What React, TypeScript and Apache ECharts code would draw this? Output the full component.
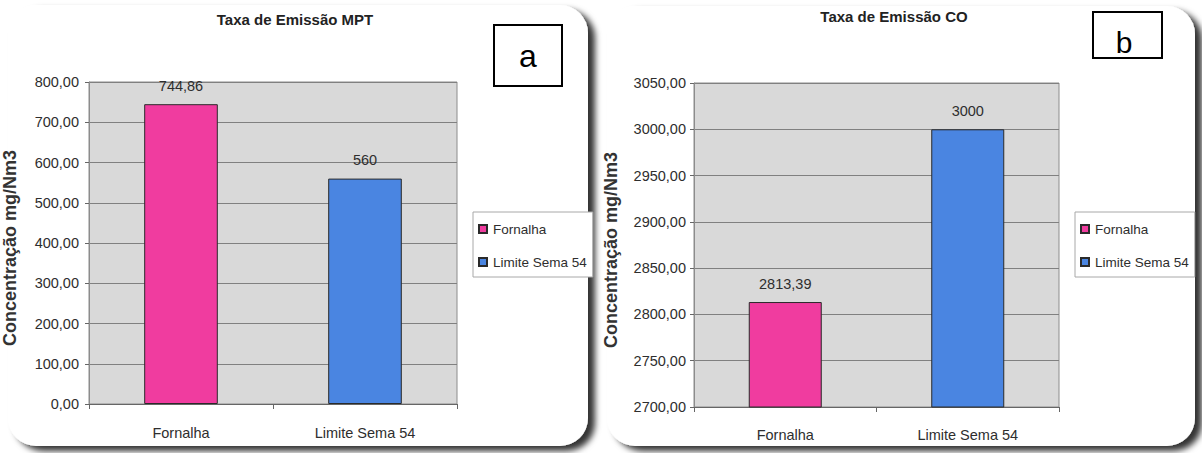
import React, { useEffect, useRef } from "react";
import * as echarts from "echarts";

const categories = ["Fornalha", "Limite Sema 54"];
const seriesNames = ["Fornalha", "Limite Sema 54"];
const mptValues = [744.86, 560];
const coValues = [2813.39, 3000];
const titles = ["Taxa de Emissão MPT", "Taxa de Emissão CO"];
const panelTags = ["a", "b"];
const yAxisName = "Concentração mg/Nm3";
const mptAxis = { min: 0, max: 800, interval: 100 };
const coAxis = { min: 2700, max: 3050, interval: 50 };

const PINK = "#f03c9f";
const BLUE = "#4a85e1";
const NARROW = "'Liberation Sans Narrow', 'Arial Narrow', 'Liberation Sans', Arial, sans-serif";
const SANS = "'Liberation Sans', Arial, sans-serif";

const fmtAxis = (v: number) => v.toFixed(2).replace(".", ",");
const fmtVal = (v: number) => String(v).replace(".", ",");

export default function App() {
  const ref = useRef<HTMLDivElement>(null);
  useEffect(() => {
    if (!ref.current) return;
    const chart = echarts.init(ref.current, undefined, { renderer: "svg" });

    const grids = [
      { left: 89, top: 82, width: 368, height: 322 },
      { left: 694, top: 83, width: 365, height: 324 },
    ];
    const axes = [mptAxis, coAxis];
    const values = [mptValues, coValues];

    const xAxis = grids.map((_, i) => ({
      type: "category",
      gridIndex: i,
      data: categories,
      axisLine: { lineStyle: { color: "#666", width: 1 } },
      axisTick: { show: true, length: 5, lineStyle: { color: "#666" } },
      axisLabel: { fontFamily: NARROW, fontSize: 14.5, color: "#2e2e2e", margin: i === 0 ? 21 : 20 },
    }));

    const yAxis = grids.map((_, i) => ({
      type: "value",
      gridIndex: i,
      min: axes[i].min,
      max: axes[i].max,
      interval: axes[i].interval,
      name: yAxisName,
      nameLocation: "middle",
      nameGap: i === 0 ? 70 : 74,
      nameTextStyle: { fontFamily: SANS, fontWeight: "bold", fontSize: 18, color: "#333", padding: [0, 0, 0, -10] },
      axisLine: { show: true, lineStyle: { color: "#8c8c8c" } },
      axisTick: { show: true, length: 4, lineStyle: { color: "#666" } },
      axisLabel: { fontFamily: NARROW, fontSize: 14.5, color: "#2e2e2e", margin: i === 0 ? 10 : 8, formatter: fmtAxis },
      splitLine: { show: true, lineStyle: { color: "#808080", width: 1 } },
    }));

    const colors = [PINK, BLUE];
    const series: any[] = [];
    grids.forEach((_, g) => {
      seriesNames.forEach((name, s) => {
        series.push({
          type: "bar",
          name,
          xAxisIndex: g,
          yAxisIndex: g,
          stack: "g" + g,
          barWidth: "40%",
          data: categories.map((_, c) => (c === s ? values[g][c] : "-")),
          itemStyle: { color: colors[s], borderColor: "#2a2a2a", borderWidth: 1 },
          label: {
            show: true,
            position: "top",
            distance: 11,
            fontFamily: NARROW,
            fontSize: 14.5,
            color: "#2e2e2e",
            formatter: (p: any) => fmtVal(p.value),
          },
        });
      });
    });

    const legendBase = {
      data: seriesNames,
      orient: "vertical",
      itemWidth: 8,
      itemHeight: 8,
      itemGap: 19,
      icon: "rect",
      backgroundColor: "#ffffff",
      borderColor: "#a8a8a8",
      borderWidth: 1,
      borderRadius: 0,
      padding: [10, 6, 8, 5],
      selectedMode: false,
      textStyle: { fontFamily: NARROW, fontSize: 13.5, color: "#2e2e2e", padding: [0, 0, 0, 1] },
    };

    const cardStyle = {
      fill: "#ffffff",
      shadowBlur: 6,
      shadowColor: "rgba(0,0,0,0.8)",
      shadowOffsetX: 7,
      shadowOffsetY: 5,
    };

    const option: any = {
      animation: false,
      backgroundColor: "#ffffff",
      title: [
        {
          text: titles[0],
          left: 295,
          top: 12,
          textAlign: "center",
          padding: 0,
          textStyle: { fontFamily: NARROW, fontWeight: "bold", fontSize: 15, color: "#222" },
        },
        {
          text: titles[1],
          left: 894,
          top: 9,
          textAlign: "center",
          padding: 0,
          textStyle: { fontFamily: NARROW, fontWeight: "bold", fontSize: 15, color: "#222" },
        },
      ],
      legend: [
        { ...legendBase, left: 473, top: 212 },
        { ...legendBase, left: 1075, top: 212 },
      ],
      grid: grids.map((g) => ({
        ...g,
        show: true,
        backgroundColor: "#d9d9d9",
        borderColor: "#8c8c8c",
        borderWidth: 1,
        containLabel: false,
      })),
      xAxis,
      yAxis,
      series,
      graphic: [
        {
          type: "rect",
          z: -10,
          shape: { x: 8, y: 5, width: 580, height: 441, r: 28 },
          style: cardStyle,
        },
        {
          type: "rect",
          z: -10,
          shape: { x: 607, y: 6, width: 588, height: 440, r: 28 },
          style: cardStyle,
        },
        {
          type: "rect",
          z: 20,
          shape: { x: 494, y: 25, width: 68, height: 61 },
          style: { fill: "#ffffff", stroke: "#000", lineWidth: 2 },
        },
        {
          type: "text",
          z: 21,
          x: 528,
          y: 56,
          style: { text: panelTags[0], fontFamily: SANS, fontSize: 32, fill: "#000", align: "center", verticalAlign: "middle" },
        },
        {
          type: "rect",
          z: 20,
          shape: { x: 1093, y: 12, width: 69, height: 46 },
          style: { fill: "#ffffff", stroke: "#000", lineWidth: 2 },
        },
        {
          type: "text",
          z: 21,
          x: 1124,
          y: 42,
          style: { text: panelTags[1], fontFamily: SANS, fontSize: 30, fill: "#000", align: "center", verticalAlign: "middle" },
        },
      ],
    };

    chart.setOption(option);
    return () => chart.dispose();
  }, []);

  return (
    <div
      ref={ref}
      style={{ position: "absolute", left: 0, top: 0, width: 1202, height: 453 }}
    />
  );
}
